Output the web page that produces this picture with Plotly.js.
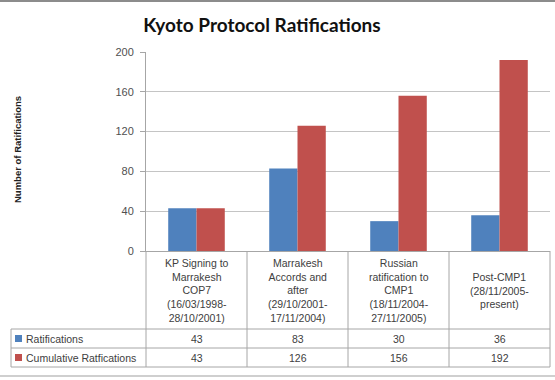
<!DOCTYPE html>
<html>
<head>
<meta charset="utf-8">
<script src="https://cdn.plot.ly/plotly-3.0.1.min.js"></script>
<style>html,body{margin:0;padding:0;background:#fff;}#chart{width:555px;height:380px;}</style>
</head>
<body>
<div id="chart"></div>
<script>
// ---- data ----
const categories = [
  "KP Signing to<br>Marrakesh<br>COP7<br>(16/03/1998-<br>28/10/2001)",
  "Marrakesh<br>Accords and<br>after<br>(29/10/2001-<br>17/11/2004)",
  "Russian<br>ratification to<br>CMP1<br>(18/11/2004-<br>27/11/2005)",
  "Post-CMP1<br>(28/11/2005-<br>present)"
];
const seriesNames = ["Ratifications", "Cumulative Ratfications"];
const ratifications = [43, 83, 30, 36];
const cumulative = [43, 126, 156, 192];
const yTicks = [0, 40, 80, 120, 160, 200];
const colors = ["#4F81BD", "#C0504D"];

// ---- layout geometry (pixels) ----
const W = 555, H = 380;
const L = 146, R = 550, T = 52, B = 251;
const px = x => (x - L) / (R - L);
const py = y => (B - y) / (B - T);
const rowTop = 329, rowMid = 348, rowBot = 367, legLeft = 11;
const lineCol = "#a6a6a6";
const textCol = "#404040";

const idx = categories.map((_, i) => i);
const traces = [
  {type: "bar", x: idx, y: ratifications, name: seriesNames[0], marker: {color: colors[0]}, hoverinfo: "y"},
  {type: "bar", x: idx, y: cumulative, name: seriesNames[1], marker: {color: colors[1]}, hoverinfo: "y"}
];

const shapes = [];
const ln = (x0, y0, x1, y1, xref, col, w) => shapes.push({type: "line", xref: xref || "paper", yref: "paper", x0, y0, x1, y1, line: {color: col || lineCol, width: w || 1}});
// table horizontal lines
ln(px(legLeft), py(rowTop), 1, py(rowTop));
ln(px(legLeft), py(rowMid), 1, py(rowMid));
ln(px(legLeft), py(rowBot), 1, py(rowBot));
// table verticals
ln(0, 0, 0, py(rowBot));
ln(1, 0, 1, py(rowBot));
ln(px(legLeft), py(rowTop), px(legLeft), py(rowBot));
[0.5, 1.5, 2.5].forEach(b => shapes.push({type: "line", xref: "x", yref: "paper", x0: b, x1: b, y0: 0, y1: py(rowBot), line: {color: lineCol, width: 1}}));
// outer chart borders
ln(px(0), py(1), px(W), py(1), "paper", "#8c8c8c", 2);
ln(px(0), py(376), px(W), py(376), "paper", "#cfcfcf", 2);
// legend swatches
[ (rowTop + rowMid) / 2, (rowMid + rowBot) / 2 ].forEach((yc, i) => shapes.push({
  type: "rect", xref: "paper", yref: "paper",
  x0: px(15), x1: px(22), y0: py(yc - 3.5), y1: py(yc + 3.5),
  fillcolor: colors[i], line: {width: 0}
}));

const annotations = [];
const fnt = {family: "Liberation Sans, Arial, sans-serif", size: 10.5, color: textCol};
categories.forEach((c, i) => {
  annotations.push({xref: "x", yref: "paper", x: i, y: py(290), text: c, showarrow: false, font: fnt, align: "center", xanchor: "center", yanchor: "middle"});
  annotations.push({xref: "x", yref: "paper", x: i, y: py((rowTop + rowMid) / 2), text: String(ratifications[i]), showarrow: false, font: fnt, xanchor: "center", yanchor: "middle"});
  annotations.push({xref: "x", yref: "paper", x: i, y: py((rowMid + rowBot) / 2), text: String(cumulative[i]), showarrow: false, font: fnt, xanchor: "center", yanchor: "middle"});
});
seriesNames.forEach((n, i) => {
  annotations.push({xref: "paper", yref: "paper", x: px(24), y: py(i === 0 ? (rowTop + rowMid) / 2 : (rowMid + rowBot) / 2), text: n, showarrow: false, font: fnt, xanchor: "left", yanchor: "middle"});
});
annotations.push({xref: "paper", yref: "paper", x: px(17), y: py(150), text: "<b>Number of Ratifications</b>", textangle: -90, showarrow: false, font: {family: "Liberation Sans, Arial, sans-serif", size: 9.5, color: "#222"}, xanchor: "center", yanchor: "middle"});

const layout = {
  width: W, height: H,
  margin: {l: L, r: W - R, t: T, b: H - B, pad: 0},
  paper_bgcolor: "#fff", plot_bgcolor: "#fff",
  title: {text: "<b>Kyoto Protocol Ratifications</b>", x: 262 / W, xref: "container", xanchor: "center", y: 1 - 25 / H, yref: "container", yanchor: "middle", font: {family: "Lato, Open Sans, sans-serif", size: 19, color: "#111"}},
  showlegend: false,
  barmode: "group", bargap: 0.44, bargroupgap: 0,
  xaxis: {range: [-0.5, 3.5], showticklabels: false, showgrid: false, zeroline: false, showline: true, linecolor: lineCol, linewidth: 1, ticks: "", fixedrange: true},
  yaxis: {range: [0, 200], tickvals: yTicks, ticktext: yTicks.map(String), showgrid: true, gridcolor: "#c4c4c4", gridwidth: 1, zeroline: false, showline: true, linecolor: lineCol, linewidth: 1, ticks: "outside", ticklen: 5, tickcolor: lineCol, ticklabelstandoff: 4, tickfont: {family: "Liberation Sans, Arial, sans-serif", size: 11, color: "#505050"}, fixedrange: true},
  shapes, annotations
};
Plotly.newPlot("chart", traces, layout, {displayModeBar: false, staticPlot: true});
</script>
</body>
</html>
